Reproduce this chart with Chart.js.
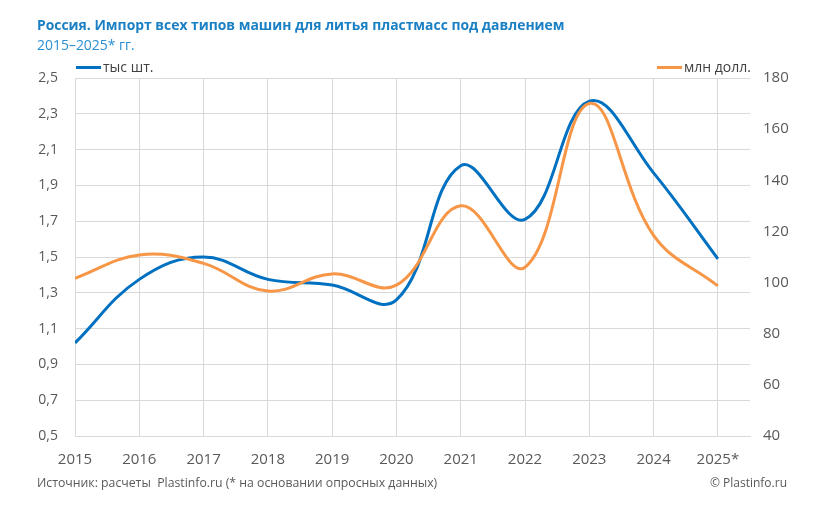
<!DOCTYPE html>
<html>
<head>
<meta charset="utf-8">
<script src="https://cdn.jsdelivr.net/npm/chart.js@4.4.1/dist/chart.umd.min.js"></script>
<style>
  html, body { margin: 0; padding: 0; background: #ffffff; }
  #wrap { position: relative; width: 820px; height: 507px; overflow: hidden; font-family: "Open Sans", sans-serif; }
  #c { position: absolute; left: 0; top: 0; }
  .t { position: absolute; white-space: nowrap; line-height: normal; }
  #title { left: 37px; top: 14px; font-size: 15px; font-weight: 700; color: #1a80c3; transform: scaleX(0.926); transform-origin: left top; }
  #sub { left: 37px; top: 34px; font-size: 15px; color: #2a8fd4; transform: scaleX(0.93); transform-origin: left top; }
  .lg { position: absolute; height: 3px; width: 25px; }
  .lt { font-size: 14px; color: #404040; top: 57px; }
  #src { left: 37px; top: 474px; font-size: 12px; color: #595959; transform: scaleX(1.022); transform-origin: left top; }
  #copy { right: 33px; top: 474px; font-size: 12px; color: #595959; transform-origin: right top; }
</style>
</head>
<body>
<div id="wrap">
  <canvas id="c" width="820" height="507"></canvas>
  <div class="t" id="title">Россия. Импорт всех типов машин для литья пластмасс под давлением</div>
  <div class="t" id="sub">2015–2025* гг.</div>
  <div class="lg" style="left:76px; top:66px; background:#0070c0;"></div>
  <div class="t lt" style="left:103px;">тыс шт.</div>
  <div class="lg" style="left:657px; top:66px; background:#f79646;"></div>
  <div class="t lt" style="left:684px;">млн долл.</div>
  <div class="t" id="src">Источник: расчеты&nbsp; Plastinfo.ru (* на основании опросных данных)</div>
  <div class="t" id="copy">© Plastinfo.ru</div>
</div>
<script>
const years = [2015, 2016, 2017, 2018, 2019, 2020, 2021, 2022, 2023, 2024, 2025];
const yearLabels = ['2015', '2016', '2017', '2018', '2019', '2020', '2021', '2022', '2023', '2024', '2025*'];
const thousandUnits = [1.02, 1.375, 1.50, 1.375, 1.343, 1.26, 2.01, 1.71, 2.37, 1.97, 1.49];
const millionUSD = [101.7, 110.8, 107.5, 96.7, 103.4, 99, 130, 106, 170, 118.5, 98.7];
const leftTicks = [0.5, 0.7, 0.9, 1.1, 1.3, 1.5, 1.7, 1.9, 2.1, 2.3, 2.5];
const rightTicks = [40, 60, 80, 100, 120, 140, 160, 180];

const grid = '#d9d9d9';
const tickColor = '#595959';

new Chart(document.getElementById('c'), {
  type: 'line',
  data: {
    datasets: [
      {
        label: 'млн долл.',
        data: years.map((y, i) => ({ x: y, y: millionUSD[i] })),
        borderColor: '#f79646',
        borderWidth: 3,
        pointRadius: 0,
        tension: 0.4,
        yAxisID: 'y1',
        order: 0
      },
      {
        label: 'тыс шт.',
        data: years.map((y, i) => ({ x: y, y: thousandUnits[i] })),
        borderColor: '#0070c0',
        borderWidth: 3,
        pointRadius: 0,
        tension: 0.4,
        yAxisID: 'y',
        order: 1
      }
    ]
  },
  options: {
    responsive: false,
    animation: false,
    layout: { padding: { top: 78, left: 0, right: 0, bottom: 0 } },
    plugins: { legend: { display: false }, tooltip: { enabled: false } },
    scales: {
      x: {
        type: 'linear',
        min: 2015,
        max: 2025.5,
        afterFit: s => { s.height = 71; },
        afterBuildTicks: s => { s.ticks = years.map(v => ({ value: v })); },
        ticks: {
          stepSize: 1,
          includeBounds: false,
          padding: 15,
          color: tickColor,
          font: { family: 'Open Sans', size: 15 },
          callback: v => yearLabels[years.indexOf(v)],
          maxRotation: 0,
          autoSkip: false
        },
        grid: { color: grid, drawTicks: false },
        border: { color: grid }
      },
      y: {
        position: 'left',
        min: 0.5,
        max: 2.5,
        afterFit: s => { s.width = 75; },
        afterBuildTicks: s => { s.ticks = leftTicks.map(v => ({ value: v })); },
        ticks: {
          padding: 17,
          color: tickColor,
          font: { family: 'Open Sans', size: 14 },
          callback: v => v.toFixed(1).replace('.', ',')
        },
        grid: { color: grid, drawTicks: false },
        border: { color: grid }
      },
      y1: {
        position: 'right',
        min: 40,
        max: 180,
        afterFit: s => { s.width = 70; },
        afterBuildTicks: s => { s.ticks = rightTicks.map(v => ({ value: v })); },
        ticks: {
          padding: 13,
          color: tickColor,
          font: { family: 'Open Sans', size: 15 },
          callback: v => String(v)
        },
        grid: { display: false, drawTicks: false },
        border: { display: false }
      }
    }
  }
});
</script>
</body>
</html>
